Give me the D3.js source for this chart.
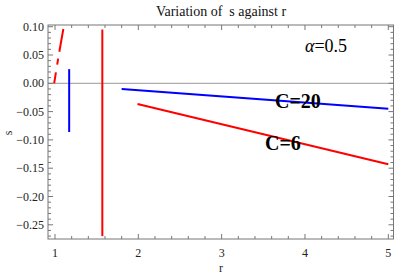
<!DOCTYPE html>
<html><head><meta charset="utf-8">
<script src="https://cdn.jsdelivr.net/npm/d3@7"></script>
<style>body{margin:0;background:#fff}svg{display:block}</style>
</head><body>
<script>
// Data
const xTicks = [1, 2, 3, 4, 5];
const yTicks = [0.10, 0.05, 0.00, -0.05, -0.10, -0.15, -0.20, -0.25];
const redDashR = [0.99, 1.045, 1.10];
const redDashS = [0.0, 0.05, 0.096];
const blueVertR = [1.17, 1.17];
const blueVertS = [0.025, -0.086];
const redVertR = [1.568, 1.568];
const redVertS = [0.095, -0.27];
const blueC20R = [1.8, 5.0];
const blueC20S = [-0.010, -0.045];
const redC6R = [1.99, 5.0];
const redC6S = [-0.0365, -0.143];

const FONT = "'Liberation Serif', 'Times New Roman', Times, 'DejaVu Serif', serif";
const W = 396, H = 277;
const L = 48, R = 393.5, T = 25, B = 239;
const x = d3.scaleLinear().domain([1, 5]).range([55, 388.3]);
const y = d3.scaleLinear().domain([0, 0.10]).range([83.3, 26.7]);

const svg = d3.select("body").append("svg").attr("width", W).attr("height", H)
  .attr("font-family", FONT);

// zero line
svg.append("line").attr("x1", L).attr("x2", R).attr("y1", y(0)).attr("y2", y(0))
  .attr("stroke", "#999").attr("stroke-width", 1);

// frame
const fc = "#777";
svg.append("rect").attr("x", L).attr("y", T).attr("width", R - L).attr("height", B - T)
  .attr("fill", "none").attr("stroke", fc).attr("stroke-width", 1);

// ticks
const xAll = d3.range(Math.ceil(0.916 / 0.2) * 0.2, 5.08, 0.2).map(v => +v.toFixed(2));
xAll.forEach(v => {
  const isMaj = Math.abs(v - Math.round(v)) < 1e-6;
  const len = isMaj ? 5 : 3;
  const px = x(v);
  if (px < L || px > R) return;
  svg.append("line").attr("x1", px).attr("x2", px).attr("y1", B).attr("y2", B - len).attr("stroke", fc);
  svg.append("line").attr("x1", px).attr("x2", px).attr("y1", T).attr("y2", T + len).attr("stroke", fc);
});
d3.range(-27, 11, 1).forEach(i => {
  const v = i / 100;
  const isMaj = i % 5 === 0;
  const len = isMaj ? 5 : 3;
  const py = y(v);
  if (py < T || py > B) return;
  svg.append("line").attr("x1", L).attr("x2", L + len).attr("y1", py).attr("y2", py).attr("stroke", fc);
  svg.append("line").attr("x1", R).attr("x2", R - len).attr("y1", py).attr("y2", py).attr("stroke", fc);
});

// tick labels
const fmt = v => (v < 0 ? "\u2212" : "") + Math.abs(v).toFixed(2);
yTicks.forEach(v => {
  svg.append("text").attr("x", 44).attr("y", y(v) + 4).attr("text-anchor", "end")
    .attr("font-family", FONT).attr("font-size", 12).attr("fill", "#222").text(fmt(v));
});
xTicks.forEach(v => {
  svg.append("text").attr("x", x(v)).attr("y", 257).attr("text-anchor", "middle")
    .attr("font-family", FONT).attr("font-size", 12).attr("fill", "#222").text(v);
});

// axis labels
svg.append("text").attr("x", 221).attr("y", 272).attr("text-anchor", "middle")
  .attr("font-family", FONT).attr("font-size", 12).attr("fill", "#222").text("r");
svg.append("text").attr("transform", "translate(12,133) rotate(-90)").attr("text-anchor", "middle")
  .attr("font-family", FONT).attr("font-size", 12).attr("fill", "#222").text("s");

// title
svg.append("text").attr("x", 221).attr("y", 16).attr("text-anchor", "middle")
  .attr("font-family", FONT).attr("font-size", 14).attr("fill", "#111")
  .style("white-space", "pre").text("Variation of  s against r");

// curves
const line = d3.line().x(d => x(d[0])).y(d => y(d[1]));
const zip = (a, b) => a.map((v, i) => [v, b[i]]);
const g = svg.append("g");
g.append("path").attr("d", line(zip(redDashR, redDashS))).attr("fill", "none")
  .attr("stroke", "#ff0000").attr("stroke-width", 2).attr("stroke-dasharray", "11,8,6,7,30");
g.append("path").attr("d", line(zip(blueVertR, blueVertS))).attr("fill", "none")
  .attr("stroke", "#0000ff").attr("stroke-width", 2);
g.append("path").attr("d", line(zip(redVertR, redVertS))).attr("fill", "none")
  .attr("stroke", "#ff0000").attr("stroke-width", 2);
g.append("path").attr("d", line(zip(blueC20R, blueC20S))).attr("fill", "none")
  .attr("stroke", "#0000ff").attr("stroke-width", 2);
g.append("path").attr("d", line(zip(redC6R, redC6S))).attr("fill", "none")
  .attr("stroke", "#ff0000").attr("stroke-width", 2);

// labels
svg.append("text").attr("x", 275).attr("y", 108).attr("font-family", FONT).attr("font-size", 20)
  .attr("font-weight", "bold").attr("fill", "#000").text("C=20");
svg.append("text").attr("x", 265).attr("y", 150).attr("font-family", FONT).attr("font-size", 20)
  .attr("font-weight", "bold").attr("fill", "#000").text("C=6");
const a = svg.append("text").attr("x", 305).attr("y", 52).attr("font-family", FONT)
  .attr("font-size", 18).attr("fill", "#000");
a.append("tspan").attr("font-style", "italic").text("\u03b1");
a.append("tspan").text("=0.5");
</script>
</body></html>
